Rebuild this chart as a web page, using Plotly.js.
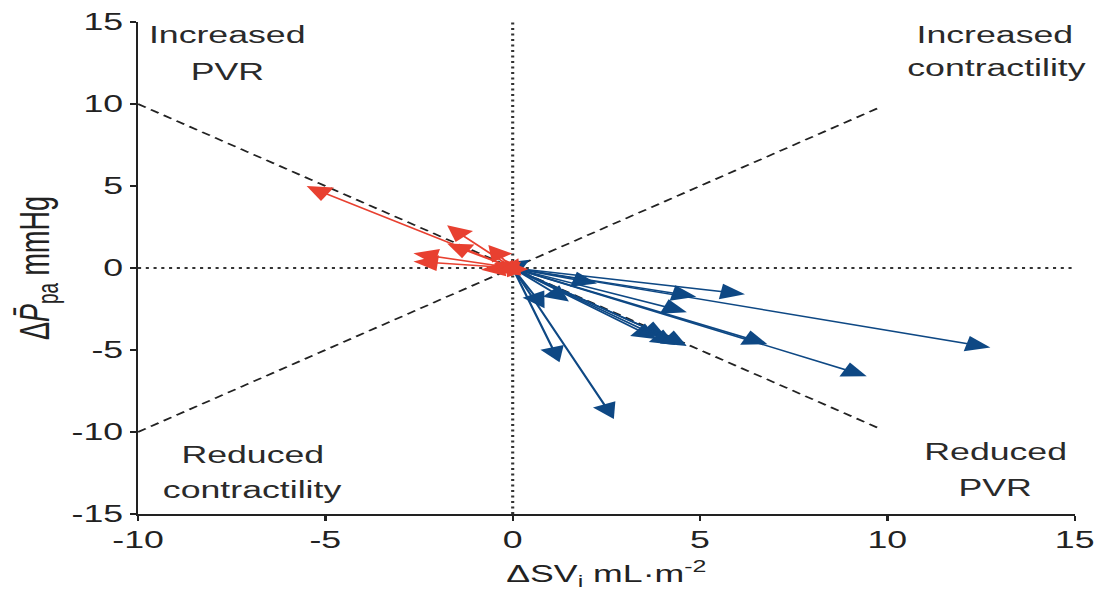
<!DOCTYPE html>
<html>
<head>
<meta charset="utf-8">
<script src="https://cdn.plot.ly/plotly-3.0.1.min.js"></script>
<style>
  html, body { margin: 0; padding: 0; background: #fff; overflow: hidden; }
  #wrap { width: 1098px; height: 590px; overflow: hidden; }
  #chart { width: 708px; height: 590px; transform: scaleX(1.5508); transform-origin: 0 0; }
</style>
</head>
<body>
<div id="wrap"><div id="chart"></div></div>
<script>
// ---- data ----
// tick values / labels
const xTickVals = [-10, -5, 0, 5, 10, 15];
const xTickText = ['-10', '-5', '0', '5', '10', '15'];
const yTickVals = [-15, -10, -5, 0, 5, 10, 15];
const yTickText = ['-15', '-10', '-5', '0', '5', '10', '15'];

// change vectors (all start at origin): ΔSVi (x) and ΔPpa (y)
const blueDx = [0.45, 2.25, 6.2, 4.9, 4.65, 12.75, 6.8, 9.45, 3.85, 4.1, 4.35, 4.65, 0.85, 1.5, 1.25, 2.7];
const blueDy = [0.5, -0.95, -1.6, -1.75, -2.7, -4.85, -4.65, -6.6, -4.35, -4.2, -4.7, -4.75, -2.45, -2.05, -5.75, -9.2];
const redDx = [-5.5, -1.75, -1.75, -0.65, -2.65, -2.65, -0.85, -0.55, -0.5, -0.2, 0.15];
const redDy = [5.0, 2.6, 1.5, 1.4, 0.9, 0.4, -0.1, -0.2, 0.3, 0.5, 0.6];

// reference lines
const diagAX = [-10, 9.75], diagAY = [10, -9.75];
const diagBX = [-10, 9.75], diagBY = [-10, 9.75];
const zeroHX = [-10, 15], zeroHY = [0, 0];
const zeroVX = [0, 0], zeroVY = [-15, 15];

// quadrant labels
const labelText = ['Increased', 'PVR', 'Increased', 'contractility', 'Reduced', 'contractility', 'Reduced', 'PVR'];
const labelX = [-7.6, -7.6, 12.87, 12.95, -6.93, -6.93, 12.87, 12.87];
const labelY = [14.2, 11.95, 14.2, 12.2, -11.4, -13.54, -11.22, -13.41];

// ---- styles ----
const BLUE = 'rgb(14,72,132)';
const RED = 'rgb(232,64,48)';
const FONT = 'Liberation Sans, Arial, sans-serif';

const traces = [
  {x: zeroHX, y: zeroHY, mode: 'lines', line: {color: '#333', width: 2, dash: '2px,3px'}, hoverinfo: 'skip', showlegend: false},
  {x: zeroVX, y: zeroVY, mode: 'lines', line: {color: '#333', width: 2, dash: '2px,3.5px'}, hoverinfo: 'skip', showlegend: false},
  {x: diagAX, y: diagAY, mode: 'lines', line: {color: '#222', width: 1.6, dash: '6px,4px'}, hoverinfo: 'skip', showlegend: false},
  {x: diagBX, y: diagBY, mode: 'lines', line: {color: '#222', width: 1.6, dash: '6px,4px'}, hoverinfo: 'skip', showlegend: false}
];

const annotations = [];
function addArrows(dx, dy, color) {
  for (let i = 0; i < dx.length; i++) {
    annotations.push({
      x: dx[i], y: dy[i], xref: 'x', yref: 'y',
      ax: 0, ay: 0, axref: 'x', ayref: 'y',
      text: '', showarrow: true, arrowhead: 2, arrowsize: 2.1, arrowwidth: 1.5,
      arrowcolor: color, standoff: 0, startstandoff: 0
    });
  }
}
addArrows(blueDx, blueDy, BLUE);
addArrows(redDx, redDy, RED);

for (let i = 0; i < labelText.length; i++) {
  annotations.push({
    x: labelX[i], y: labelY[i], xref: 'x', yref: 'y', text: labelText[i],
    showarrow: false, xanchor: 'center', yanchor: 'middle',
    font: {family: FONT, size: 23, color: '#2a2a2a'}
  });
}

const layout = {
  width: 708, height: 590,
  margin: {l: 89, r: 15, t: 22, b: 76, pad: 0},
  paper_bgcolor: '#fff', plot_bgcolor: '#fff',
  showlegend: false,
  font: {family: FONT, color: '#222'},
  xaxis: {
    range: [-10, 15], tickvals: xTickVals, ticktext: xTickText,
    showgrid: false, zeroline: false, showline: true, linecolor: '#222', linewidth: 1.5,
    ticks: 'outside', ticklen: 5, tickwidth: 1.5, tickcolor: '#222',
    tickfont: {family: FONT, size: 23, color: '#222'},
    automargin: false,
    title: {text: 'ΔSV<sub>i</sub> mL·m<sup>-2</sup>', font: {family: FONT, size: 23, color: '#222'}, standoff: 14}
  },
  yaxis: {
    range: [-15, 15], tickvals: yTickVals, ticktext: yTickText,
    showgrid: false, zeroline: false, showline: true, linecolor: '#222', linewidth: 1.5,
    ticks: 'outside', ticklen: 3.5, tickwidth: 1.5, tickcolor: '#222',
    tickfont: {family: FONT, size: 23, color: '#222'},
    automargin: false,
    title: {text: 'Δ<i>P̄</i><sub>pa</sub> mmHg', font: {family: FONT, size: 27, color: '#222'}, standoff: 6}
  },
  annotations: annotations
};

Plotly.newPlot('chart', traces, layout, {displayModeBar: false, staticPlot: true});
</script>
</body>
</html>
